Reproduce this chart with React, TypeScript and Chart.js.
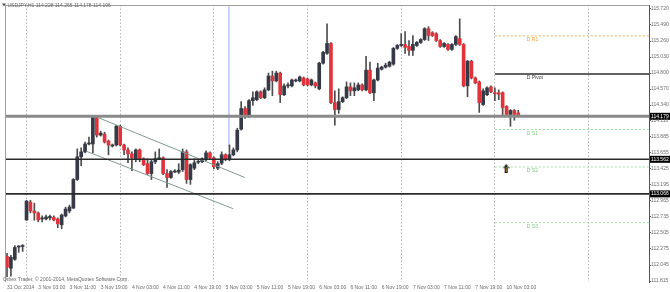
import React, { useEffect, useRef } from "react";
import { Chart, registerables } from "chart.js";

Chart.register(...registerables);

// ---- Data (USDJPY H1, 31 Oct 2014 19:00 .. 10 Nov 2014 06:00) ----
const opens = [
  112.169, 111.999, 112.127, 112.303, 112.310, 112.692, 112.947, 112.820, 112.792, 112.706,
  112.706, 112.721, 112.728, 112.706, 112.622, 112.749, 112.820, 112.862, 113.272, 113.598,
  113.669, 113.782, 113.782, 114.164, 113.910, 113.924, 113.824, 113.753, 113.768, 114.036,
  113.768, 113.697, 113.641, 113.570, 113.697, 113.570, 113.499, 113.358, 113.527, 113.570,
  113.584, 113.358, 113.301, 113.379, 113.379, 113.414, 113.669, 113.272, 113.435, 113.520,
  113.527, 113.556, 113.655, 113.584, 113.435, 113.506, 113.627, 113.556, 113.627, 113.697,
  113.994, 114.291, 114.178, 114.404, 114.418, 114.531, 114.446, 114.559, 114.758, 114.687,
  114.800, 114.489, 114.616, 114.616, 114.687, 114.687, 114.730, 114.715, 114.630, 114.659,
  114.574, 114.942, 115.083, 115.225, 114.376, 114.277, 114.390, 114.446, 114.602, 114.545,
  114.559, 114.630, 114.559, 114.842, 114.517, 114.701, 114.856, 114.885, 114.899, 114.928,
  115.154, 115.196, 115.211, 115.182, 115.126, 115.196, 115.239, 115.281, 115.437, 115.380,
  115.366, 115.267, 115.182, 115.211, 115.140, 115.211, 115.295, 115.211, 114.616, 114.970,
  114.730, 114.673, 114.348, 114.489, 114.602, 114.517, 114.517, 114.517, 114.320, 114.206,
  114.263, 114.228,
];
const highs = [
  112.212, 112.183, 112.324, 112.324, 112.338, 112.975, 112.975, 112.933, 112.806, 112.749,
  112.763, 112.763, 112.749, 112.721, 112.777, 112.876, 112.905, 113.286, 113.711, 113.726,
  113.810, 113.881, 114.192, 114.178, 113.966, 113.952, 113.838, 113.782, 114.051, 114.051,
  113.782, 113.726, 113.669, 113.711, 113.711, 113.584, 113.570, 113.556, 113.669, 113.711,
  113.598, 113.414, 113.400, 113.414, 113.499, 113.711, 113.697, 113.499, 113.570, 113.556,
  113.584, 113.683, 113.669, 113.598, 113.527, 113.669, 113.641, 113.768, 113.726, 114.008,
  114.390, 114.320, 114.418, 114.531, 114.545, 114.545, 114.588, 114.800, 114.828, 114.828,
  114.814, 114.645, 114.659, 114.715, 114.715, 114.758, 114.744, 114.730, 114.715, 114.673,
  114.956, 115.112, 115.508, 115.239, 114.545, 114.574, 114.460, 114.673, 114.659, 114.659,
  114.659, 114.645, 115.041, 114.956, 114.715, 114.942, 114.899, 114.942, 114.970, 115.168,
  115.211, 115.366, 115.395, 115.267, 115.338, 115.253, 115.295, 115.451, 115.465, 115.395,
  115.380, 115.281, 115.239, 115.225, 115.225, 115.338, 115.579, 115.225, 114.984, 114.984,
  114.744, 114.687, 114.574, 114.602, 114.616, 114.588, 114.559, 114.531, 114.334, 114.277,
  114.277, 114.265,
];
const lows = [
  111.879, 111.886, 112.112, 112.226, 112.240, 112.685, 112.792, 112.688, 112.664, 112.664,
  112.692, 112.692, 112.678, 112.580, 112.565, 112.735, 112.792, 112.855, 113.258, 113.470,
  113.655, 113.768, 113.655, 113.881, 113.895, 113.796, 113.627, 113.739, 113.753, 113.753,
  113.627, 113.513, 113.400, 113.527, 113.527, 113.470, 113.343, 113.272, 113.499, 113.556,
  113.343, 113.160, 113.287, 113.372, 113.358, 113.386, 113.216, 113.202, 113.414, 113.499,
  113.513, 113.541, 113.570, 113.428, 113.414, 113.485, 113.541, 113.541, 113.612, 113.669,
  113.980, 114.150, 114.164, 114.334, 114.404, 114.432, 114.432, 114.545, 114.475, 114.673,
  114.376, 114.475, 114.588, 114.602, 114.673, 114.673, 114.616, 114.616, 114.616, 114.588,
  114.559, 114.928, 115.069, 114.362, 114.051, 114.221, 114.376, 114.432, 114.475, 114.475,
  114.545, 114.545, 114.545, 114.503, 114.404, 114.687, 114.842, 114.871, 114.885, 114.913,
  115.140, 115.182, 115.083, 115.055, 115.055, 115.182, 115.225, 115.267, 115.267, 115.324,
  115.253, 115.168, 115.168, 115.126, 115.126, 115.196, 115.196, 114.602, 114.460, 114.715,
  114.645, 114.235, 114.334, 114.475, 114.517, 114.404, 114.418, 114.192, 114.192, 114.036,
  114.122, 114.178,
];
const closes = [
  112.013, 112.155, 112.296, 112.317, 112.324, 112.961, 112.820, 112.792, 112.692, 112.721,
  112.735, 112.742, 112.692, 112.636, 112.763, 112.848, 112.876, 113.272, 113.598, 113.669,
  113.782, 113.789, 114.164, 113.910, 113.938, 113.810, 113.768, 113.768, 114.036, 113.768,
  113.697, 113.641, 113.584, 113.697, 113.556, 113.485, 113.358, 113.527, 113.570, 113.584,
  113.358, 113.301, 113.386, 113.393, 113.407, 113.669, 113.272, 113.485, 113.513, 113.534,
  113.570, 113.655, 113.584, 113.456, 113.499, 113.627, 113.556, 113.627, 113.697, 113.980,
  114.291, 114.178, 114.404, 114.446, 114.531, 114.446, 114.559, 114.758, 114.687, 114.800,
  114.489, 114.616, 114.630, 114.701, 114.701, 114.744, 114.630, 114.630, 114.701, 114.616,
  114.942, 115.098, 115.225, 114.376, 114.277, 114.390, 114.446, 114.602, 114.545, 114.588,
  114.630, 114.559, 114.842, 114.517, 114.701, 114.871, 114.885, 114.913, 114.956, 115.154,
  115.196, 115.211, 115.168, 115.126, 115.211, 115.239, 115.281, 115.437, 115.338, 115.338,
  115.267, 115.182, 115.225, 115.140, 115.211, 115.324, 115.211, 114.616, 114.970, 114.730,
  114.659, 114.376, 114.545, 114.588, 114.531, 114.503, 114.496, 114.305, 114.206, 114.263,
  114.206, 114.196,
];

const xTickIndex = [0, 8, 16, 24, 32, 40, 48, 56, 64, 72, 80, 88, 96, 104, 112, 120, 128];
const xTickLabels = [
  "31 Oct 2014", "3 Nov 03:00", "3 Nov 11:00", "3 Nov 19:00", "4 Nov 03:00", "4 Nov 11:00",
  "4 Nov 19:00", "5 Nov 03:00", "5 Nov 11:00", "5 Nov 19:00", "6 Nov 03:00", "6 Nov 11:00",
  "6 Nov 19:00", "7 Nov 03:00", "7 Nov 11:00", "7 Nov 19:00", "10 Nov 03:00",
];
const daySeparators = [5, 29, 53, 77, 101, 125, 149];

const yTickValues = [
  115.72, 115.49, 115.26, 115.03, 114.8, 114.57, 114.34, 114.116, 113.885,
  113.655, 113.425, 113.195, 112.965, 112.735, 112.505, 112.275, 112.045, 111.815,
];
const yTickLabels = [
  "115.720", "115.490", "115.260", "115.030", "114.800", "114.570", "114.340", "114.116", "113.885",
  "113.655", "113.425", "113.195", "112.965", "112.735", "112.505", "112.275", "112.045", "111.815",
];
const levelValues = [114.179, 113.562, 113.066];
const levelLabels = ["114.179", "113.562", "113.066"];

const pivotNames = ["D R1", "D Pivot", "D S1", "D S2", "D S3"];
const pivotValues = [115.334, 114.786, 113.99, 113.452, 112.654];
const pivotStart = 125;

const channelUpper = [
  { x: 23.21, y: 114.164 },
  { x: 60.94, y: 113.301 },
];
const channelLower = [
  { x: 20.26, y: 113.679 },
  { x: 57.96, y: 112.853 },
];
const vLineIndex = 56.87;
const vLineBottom = 113.739;
const arrowPoint = { x: 127.9, y: 113.428 };

const titleText = "USDJPY,H1 114.228 114.265 114.178 114.196";
const copyrightText = "Orbex Trader, \u00A9 2001-2014, MetaQuotes Software Corp.";

// scale ranges
const X_MIN = -0.516;
const X_MAX = 164.5;
const Y_MIN = 111.801;
const Y_MAX = 115.777;

const FONT = '"Liberation Sans", Arial, sans-serif';

export default function App() {
  const canvasRef = useRef<HTMLCanvasElement | null>(null);

  useEffect(() => {
    const canvas = canvasRef.current;
    if (!canvas) return;

    const wick: any[] = [];
    const bull: any[] = [];
    const bear: any[] = [];
    for (let i = 0; i < opens.length; i++) {
      wick.push({ x: i, y: [lows[i], highs[i]] });
      if (closes[i] >= opens[i]) bull.push({ x: i, y: [opens[i], closes[i]] });
      else bear.push({ x: i, y: [closes[i], opens[i]] });
    }

    const arrow = document.createElement("canvas");
    arrow.width = 7;
    arrow.height = 9;
    const a = arrow.getContext("2d")!;
    a.fillStyle = "#111";
    a.beginPath();
    a.moveTo(3.5, 0);
    a.lineTo(7, 4);
    a.lineTo(0, 4);
    a.closePath();
    a.fill();
    a.fillRect(2, 4, 3, 5);
    a.fillStyle = "#c8913a";
    a.fillRect(3, 3, 1, 5);

    const hline = (v: number, from: number, color: string, width: number, dash: number[] = []) => ({
      type: "line",
      data: [
        { x: from, y: v },
        { x: X_MAX, y: v },
      ],
      borderColor: color,
      borderWidth: width,
      borderDash: dash,
      pointRadius: 0,
      fill: false,
      order: 0,
    });

    const levelColors = ["#8a8a8a", "#2a2a2a", "#2a2a2a"];
    const levelWidths = [3, 1.6, 1.6];
    const pivotColors = ["#f6b253", "#2e2e2e", "#9fe49f", "#9fe49f", "#9fe49f"];
    const pivotTextColors = ["#f0a03c", "#444444", "#7acb7a", "#7acb7a", "#7acb7a"];

    const datasets: any[] = [];
    levelValues.forEach((v, k) => datasets.push(hline(v, X_MIN, levelColors[k], levelWidths[k])));
    pivotValues.forEach((v, k) =>
      datasets.push(hline(v, pivotStart, pivotColors[k], k === 1 ? 1.5 : 1, k === 1 ? [] : [2, 2]))
    );
    datasets.push({
      type: "line",
      data: channelUpper,
      borderColor: "#7f9a93",
      borderWidth: 1,
      pointRadius: 0,
      order: 0,
    });
    datasets.push({
      type: "line",
      data: channelLower,
      borderColor: "#7f9a93",
      borderWidth: 1,
      pointRadius: 0,
      order: 0,
    });
    datasets.push({
      type: "line",
      data: [
        { x: vLineIndex, y: Y_MAX },
        { x: vLineIndex, y: vLineBottom },
      ],
      borderColor: "#b9c6f5",
      borderWidth: 1.5,
      pointRadius: 0,
      order: 3,
    });
    datasets.push({
      type: "line",
      data: [arrowPoint],
      showLine: false,
      pointStyle: arrow,
      pointRadius: 4,
      order: 0,
    });
    datasets.push({
      type: "bar",
      data: bull,
      backgroundColor: "#353a46",
      barThickness: 3,
      grouped: false,
      minBarLength: 1,
      borderWidth: 0,
      order: 1,
    });
    datasets.push({
      type: "bar",
      data: bear,
      backgroundColor: "#e2333b",
      barThickness: 3,
      grouped: false,
      minBarLength: 1,
      borderWidth: 0,
      order: 1,
    });
    datasets.push({
      type: "bar",
      data: wick,
      backgroundColor: "#4d4d4d",
      barThickness: 1,
      grouped: false,
      borderWidth: 0,
      order: 2,
    });

    const allY = [...yTickValues, ...levelValues].sort((p, q) => q - p);
    const isLevel = (v: number) => levelValues.indexOf(v) >= 0;

    const textPlugin = {
      id: "mtText",
      afterDraw(chart: any) {
        const { ctx, chartArea, scales } = chart;
        const xs = scales.x;
        const ys = scales.y;
        ctx.save();
        // frame (top, left)
        ctx.strokeStyle = "#a0a0a0";
        ctx.lineWidth = 1;
        ctx.beginPath();
        ctx.moveTo(chartArea.left, chartArea.top + 0.5);
        ctx.lineTo(chartArea.right, chartArea.top + 0.5);
        ctx.moveTo(chartArea.left + 0.5, chartArea.top);
        ctx.lineTo(chartArea.left + 0.5, chartArea.bottom);
        ctx.stroke();

        // title
        ctx.fillStyle = "#555";
        ctx.beginPath();
        ctx.moveTo(2, 3.5);
        ctx.lineTo(6, 3.5);
        ctx.lineTo(4, 6.5);
        ctx.closePath();
        ctx.fill();
        ctx.font = `5px ${FONT}`;
        ctx.textBaseline = "middle";
        ctx.textAlign = "left";
        ctx.fillStyle = "#666";
        ctx.fillText(titleText, 7.5, 5.5);
        ctx.fillText(copyrightText, 3, 279.5);

        // pivot labels
        ctx.textBaseline = "top";
        pivotNames.forEach((name, k) => {
          ctx.fillStyle = pivotTextColors[k];
          ctx.fillText(name, xs.getPixelForValue(133.2), ys.getPixelForValue(pivotValues[k]) + 1.3);
        });
        ctx.restore();
      },
    };

    const chart = new Chart(canvas, {
      type: "bar",
      data: { datasets },
      options: {
        responsive: false,
        maintainAspectRatio: false,
        animation: false,
        devicePixelRatio: 1,
        events: [],
        layout: { padding: { top: 1, left: 0, right: 0, bottom: 0 } },
        plugins: {
          legend: { display: false },
          tooltip: { enabled: false },
        },
        scales: {
          x: {
            type: "linear",
            position: "bottom",
            min: X_MIN,
            max: X_MAX,
            offset: false,
            grid: {
              display: true,
              drawOnChartArea: false,
              drawTicks: true,
              tickLength: 3,
              color: "rgba(0,0,0,0)",
              offset: false,
            },
            border: { display: false },
            afterBuildTicks: (s: any) => {
              s.ticks = xTickIndex.map((v) => ({ value: v }));
            },
            afterFit: (s: any) => {
              s.height = 10;
            },
            ticks: {
              autoSkip: false,
              maxRotation: 0,
              minRotation: 0,
              align: "start",
              padding: 0,
              color: "#6b6b6b",
              font: { size: 5, family: FONT },
              callback: (v: any) => {
                const k = xTickIndex.indexOf(Number(v));
                return k >= 0 ? xTickLabels[k] : "";
              },
            },
          },
          xg: {
            type: "linear",
            position: "bottom",
            min: X_MIN,
            max: X_MAX,
            offset: false,
            grid: {
              display: true,
              drawOnChartArea: true,
              drawTicks: false,
              color: "#b4b4b4",
              lineWidth: 1,
              offset: false,
            },
            border: { display: false, dash: [1.5, 2] },
            afterBuildTicks: (s: any) => {
              s.ticks = daySeparators.map((v) => ({ value: v }));
            },
            afterFit: (s: any) => {
              s.height = 0;
            },
            ticks: { display: false },
          },
          y: {
            type: "linear",
            position: "right",
            min: Y_MIN,
            max: Y_MAX,
            grid: {
              display: true,
              drawOnChartArea: false,
              drawTicks: true,
              tickLength: 2,
              color: "#666",
            },
            border: { display: true, color: "#555", width: 1 },
            afterBuildTicks: (s: any) => {
              s.ticks = allY.map((v) => ({ value: v }));
            },
            afterFit: (s: any) => {
              s.width = 21;
            },
            ticks: {
              autoSkip: false,
              padding: 0,
              font: { size: 5, family: FONT },
              color: (c: any) => (c.tick && isLevel(c.tick.value) ? "#ffffff" : "#6b6b6b"),
              showLabelBackdrop: (c: any) => !!(c.tick && isLevel(c.tick.value)),
              backdropColor: "#000000",
              backdropPadding: { top: 0.5, bottom: 0.5, left: 1, right: 2 },
              callback: (v: any) => {
                const n = Number(v);
                const li = levelValues.indexOf(n);
                if (li >= 0) return levelLabels[li];
                const k = yTickValues.indexOf(n);
                return k >= 0 ? yTickLabels[k] : "";
              },
            },
          },
        },
      } as any,
      plugins: [textPlugin],
    });

    return () => chart.destroy();
  }, []);

  return (
    <div style={{ position: "absolute", left: 0, top: 0, width: 670, height: 292, background: "#ffffff" }}>
      <canvas ref={canvasRef} width={670} height={292} style={{ width: 670, height: 292, display: "block" }} />
    </div>
  );
}
